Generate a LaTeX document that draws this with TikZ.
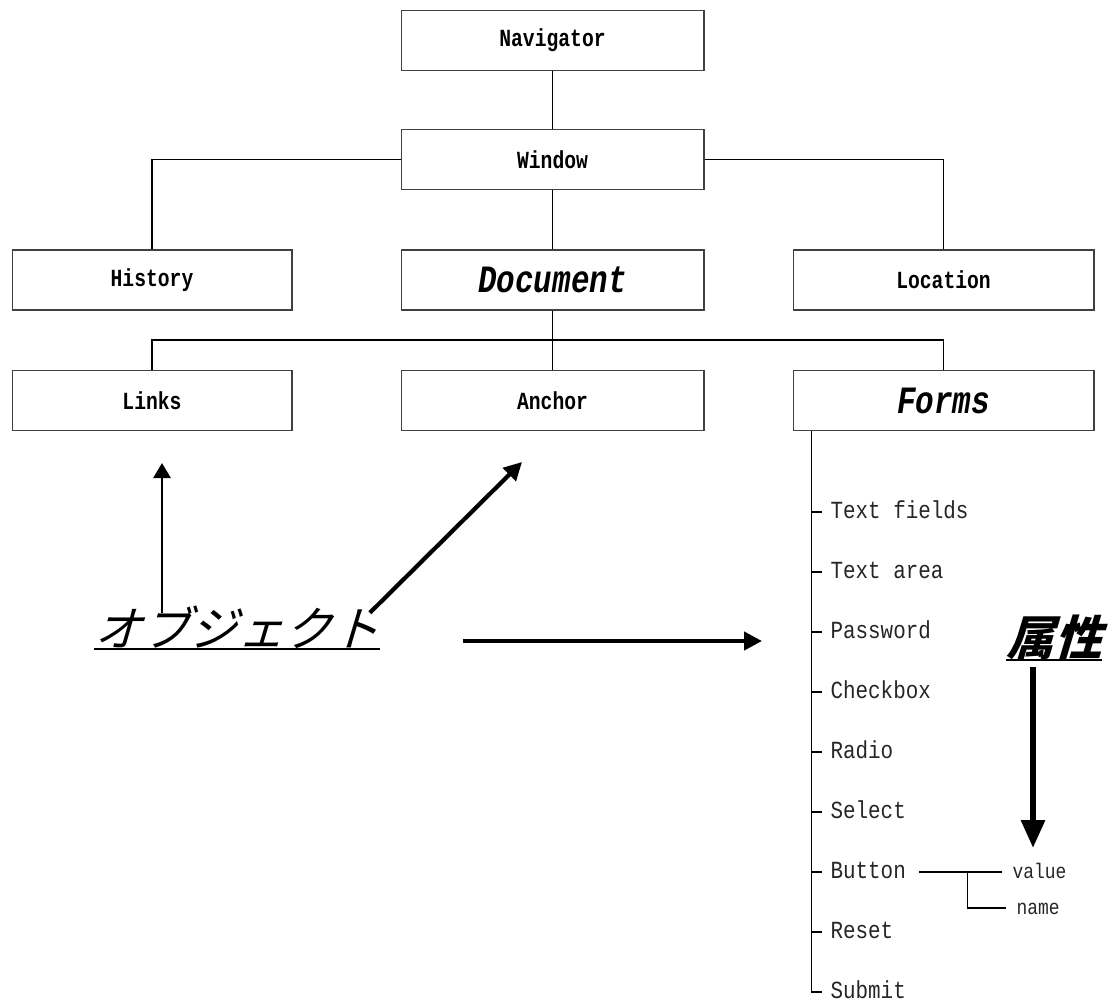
\documentclass[tikz,border=0pt]{standalone}
\usepackage{fontspec}
\usetikzlibrary{arrows.meta}
\newfontfamily\boxfont[FakeStretch=0.8]{Liberation Mono}
\newfontfamily\listfont[FakeStretch=0.85]{Liberation Mono}
\newfontfamily\jpfont[FakeSlant=0.3]{Noto Sans CJK JP}

\begin{document}
\begin{tikzpicture}[x=0.02cm, y=-0.02cm, line width=0.6pt,
	main node/.style={draw=black!75, minimum height=1.2cm, inner sep=0pt, font=\boxfont\fontsize{14}{16}\selectfont\bfseries},
	big label/.style={font=\boxfont\fontsize{22}{24}\selectfont\bfseries\itshape},
	list item/.style={anchor=west, inner sep=0pt, text height=10pt, text depth=3pt, text=black!85, font=\listfont\fontsize{14}{16}\selectfont},
	small item/.style={list item, font=\listfont\fontsize{12}{14}\selectfont},
	jp label/.style={anchor=base, inner sep=0pt, font=\jpfont\fontsize{27}{30}\selectfont},
	thin arrow/.style={-{Triangle[length=0.3cm, width=0.34cm]}, line width=1.6pt},
	big arrow/.style={-{Triangle[length=0.36cm, width=0.36cm]}, line width=2.4pt},
	huge arrow/.style={-{Triangle[length=0.56cm, width=0.46cm]}, line width=3.4pt}]
	\useasboundingbox (0,0) rectangle (1118,1004);
	% boxes
	\node[main node, minimum width=6.06cm] (N) at (552.5,40.5) {Navigator};
	\node[main node, minimum width=6.06cm] (W) at (552.5,159.5) {Window};
	\node[main node, minimum width=5.6cm] (H) at (152,280) {History};
	\node[main node, minimum width=6.06cm, big label] (D) at (552.5,280) {Document};
	\node[main node, minimum width=6.02cm] (L) at (943.5,280) {Location};
	\node[main node, minimum width=5.6cm] (Li) at (152,400.5) {Links};
	\node[main node, minimum width=6.06cm] (A) at (552.5,400.5) {Anchor};
	\node[main node, minimum width=6.02cm, big label] (F) at (943.5,400.5) {Forms};
	\coordinate (bus) at (552.5,340);
	\draw (N) -- (W) (W) -- (D) (D) -- (A);
	\draw (W.west) -| (H) (W.east) -| (L);
	\draw (Li) |- (bus) -| (F);
	% form elements
	\foreach \t [count=\i] in {Text fields,Text area,Password,Checkbox,Radio,Select,Button,Reset,Submit}
		\node[list item] (f\i) at (830,452+60*\i) {\t};
	\foreach \i in {1,...,8}
		\draw ([xshift=-0.16cm]f\i.west) -- ++(-10,0);
	\draw ([xshift=0.38cm]F.south west) |- ([xshift=-0.16cm]f9.west);
	\node[small item] (v) at (1012,872) {value};
	\node[small item] (n) at (1016,908) {name};
	\draw ([xshift=0.26cm]f7.east) -- coordinate[pos=0.58] (b) ([xshift=-0.2cm]v.west);
	\draw (b) |- ([xshift=-0.2cm]n.west);
	% labels
	\node[jp label] (O) at (237,646) {オブジェクト};
	\draw[line width=1.1pt] (O.south west) -- (O.south east);
	\node[jp label, font=\jpfont\fontsize{27}{30}\selectfont\bfseries] (Z) at (1054,655) {属性};
	\draw[line width=1.1pt] (Z.south west) -- (Z.south east);
	\coordinate (u) at (162,463);
	\coordinate (d) at (522,462);
	\coordinate (h) at (762,641);
	\coordinate (z) at (1033,848);
	\draw[thin arrow] (u |- O.north) ++(0,8) -- (u);
	\draw[big arrow] (O.north east) ++(-10,8) -- (d);
	\draw[big arrow] (h -| O.east) ++(83,0) -- (h);
	\draw[huge arrow] (z |- Z.south) ++(0,7) -- (z);
\end{tikzpicture}
\end{document}
